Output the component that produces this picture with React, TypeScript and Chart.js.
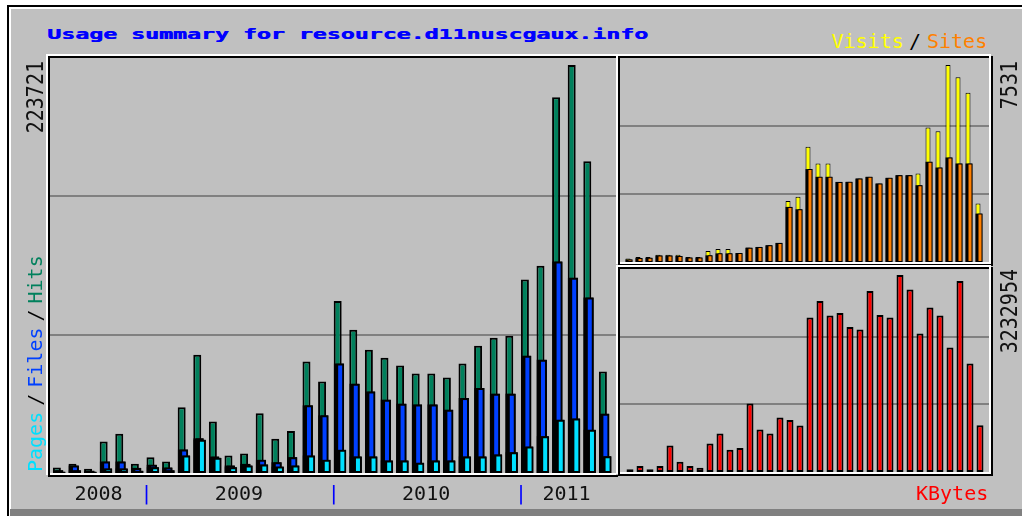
import React, { useEffect, useRef } from 'react';
import { Chart, registerables } from 'chart.js';
Chart.register(...registerables);

// ---------------- data ----------------
const title = 'Usage summary for resource.d11nuscgaux.info';
const years = ['2008', '2009', '2010', '2011'];
const monthsPerYear = [6, 12, 12, 6];

const hits = [3000, 5100, 2300, 17300, 21500, 5100, 8700, 6300, 36100, 64900, 28300, 9600, 10700, 32800, 18800, 23000, 61200, 50200,
  94300, 78600, 67600, 63200, 59000, 54500, 54500, 52300, 60000, 69800, 74200, 75300, 106100, 113700, 206000, 223721, 171000, 55600];
const files = [1500, 4100, 1200, 6300, 6300, 2800, 4500, 3000, 12900, 19000, 9000, 4100, 5000, 7200, 5900, 8700, 37100, 31600,
  60000, 49000, 44700, 40200, 38000, 37600, 37600, 34700, 41100, 46600, 43500, 43500, 64300, 62100, 116000, 107000, 96200, 32500];
const pages = [700, 1500, 700, 2500, 2500, 1200, 3200, 1500, 9600, 18200, 8300, 3200, 4100, 4700, 3500, 4100, 9600, 7200,
  12700, 9100, 9100, 6900, 6900, 5600, 6900, 6900, 9100, 9100, 10200, 11400, 14500, 20200, 29200, 29900, 23700, 9200];
const visits = [130, 190, 190, 280, 280, 280, 190, 190, 420, 500, 500, 345, 550, 575, 640, 730, 2335, 2490,
  4400, 3765, 3765, 3060, 3062, 3190, 3254, 2999, 3215, 3318, 3318, 3381, 5140, 5000, 7531, 7055, 6470, 2235];
const sites = [100, 150, 160, 250, 250, 230, 170, 170, 255, 330, 330, 340, 545, 575, 640, 730, 2105, 2015,
  3550, 3255, 3255, 3060, 3062, 3190, 3254, 2999, 3215, 3318, 3318, 2935, 3830, 3610, 3995, 3765, 3765, 1850];
const kbytes = [44000, 99000, 44000, 99000, 433000, 170000, 99000, 71000, 466000, 630000, 367000, 394000, 1123000, 696000, 630000, 893000, 855000, 762000,
  2537000, 2805000, 2570000, 2608000, 2378000, 2340000, 2970000, 2575000, 2537000, 3232954, 2997000, 2274000, 2701000, 2570000, 2044000, 3134000, 1781000, 767000];

// ---------------- styles ----------------
const COL = {
  hits: '#00805C', files: '#0040FF', pages: '#00E0FF',
  visits: '#FFFF00', sites: '#FF8000', kbytes: '#FF0000',
  grid: '#808080', bg: '#C0C0C0', title: '#0000FF', sep: '#0000FF',
};
const MONO = "'DejaVu Sans Mono', 'Liberation Mono', monospace";

const xy = (arr: number[], dx: number) => arr.map((v, i) => ({ x: i + dx, y: v }));

function bar(label: string, arr: number[], dx: number, color: string, width: number, order: number, border: number) {
  return {
    label, data: xy(arr, dx), backgroundColor: color, borderColor: '#000', borderWidth: border,
    barThickness: width, order, grouped: false, borderSkipped: false, inflateAmount: 0,
  };
}

function yScale(max: number) {
  return {
    min: 0, max,
    afterBuildTicks: (s: any) => { s.ticks = [{ value: max / 3 }, { value: (2 * max) / 3 }]; },
    afterFit: (s: any) => { s.width = 0; },
    grid: { color: COL.grid, lineWidth: 2, drawTicks: false },
    border: { display: false },
    ticks: { display: false },
  };
}

const baseOpts = {
  animation: false as const, responsive: false, devicePixelRatio: 1,
  layout: { padding: 0 },
  plugins: { legend: { display: false }, tooltip: { enabled: false } },
};

function yearTicks() {
  const out: { value: number; label: string; sep: boolean }[] = [];
  let s = 0;
  monthsPerYear.forEach((n, k) => {
    out.push({ value: s + (n - 1) / 2 + 0.17, label: years[k], sep: false });
    if (k < years.length - 1) out.push({ value: s + n - 0.5 + 0.25, label: '|', sep: true });
    s += n;
  });
  return out;
}

function mainConfig(): any {
  const ticks = yearTicks();
  const ymax = Math.max(...hits) * 1.0172;
  return {
    type: 'bar',
    data: {
      datasets: [
        bar('Hits', hits, 0, COL.hits, 8, 5, 2),
        bar('', files, 0.08, '#000', 10, 4, 0),
        bar('Files', files, 0.16, COL.files, 8, 3, 2),
        bar('', pages, 0.15, '#000', 12, 2, 0),
        bar('Pages', pages, 0.3, COL.pages, 8, 1, 2),
      ],
    },
    options: {
      ...baseOpts,
      scales: {
        x: {
          type: 'linear', min: -0.44, max: 35.84, offset: false,
          afterBuildTicks: (s: any) => { s.ticks = ticks.map(t => ({ value: t.value })); },
          afterFit: (s: any) => { s.height = 36; },
          grid: { display: false, drawTicks: false },
          border: { display: false },
          ticks: {
            autoSkip: false, maxRotation: 0, minRotation: 0, padding: 10,
            callback: (_v: any, i: number) => ticks[i].label,
            color: (ctx: any) => (ticks[ctx.index] && ticks[ctx.index].sep ? COL.sep : '#111'),
            font: { family: MONO, size: 20 },
          },
        },
        y: yScale(ymax),
      },
    },
  };
}

function visitsConfig(): any {
  const ymax = Math.max(...visits) * 1.035;
  return {
    type: 'bar',
    data: {
      datasets: [
        bar('Visits', visits, 0, COL.visits, 5, 3, 1),
        bar('', sites, 0.1, '#000', 7, 2, 0),
        bar('Sites', sites, 0.2, COL.sites, 5, 1, 1),
      ],
    },
    options: {
      ...baseOpts,
      scales: {
        x: { type: 'linear', min: -0.8, max: 36.1, display: false, offset: false },
        y: yScale(ymax),
      },
    },
  };
}

function kbytesConfig(): any {
  const ymax = Math.max(...kbytes) * 1.0305;
  return {
    type: 'bar',
    data: { datasets: [bar('KBytes', kbytes, 0, COL.kbytes, 7, 1, 2)] },
    options: {
      ...baseOpts,
      scales: {
        x: { type: 'linear', min: -1.0, max: 35.9, display: false, offset: false },
        y: yScale(ymax),
      },
    },
  };
}

// ---------------- helpers ----------------
const abs = (left: number, top: number, width: number, height: number, background: string): React.CSSProperties => ({
  position: 'absolute', left, top, width, height, background,
});

function Etched({ x1, y1, x2, y2, right = true }: { x1: number; y1: number; x2: number; y2: number; right?: boolean }) {
  const w = (a: number, b: number, c: number, d: number, col: string, k: string) => <div key={k} style={abs(a, b, c, d, col)} />;
  const wx1 = x1 - 2, wy1 = y1 - 2, wx2 = x2 - 2, wy2 = y2 - 2;
  const els = [
    w(wx1, wy1, wx2 - wx1, 2, '#fff', 'wt'),
    w(wx1, wy1, 2, wy2 - wy1, '#fff', 'wl'),
    w(wx1, wy2 - 2, wx2 - wx1, 2, '#fff', 'wb'),
    w(x1, y1, x2 - x1, 2, '#000', 'bt'),
    w(x1, y1, 2, y2 - y1, '#000', 'bl'),
    w(x1, y2 - 2, x2 - x1, 2, '#000', 'bb'),
  ];
  if (right) {
    els.push(w(wx2 - 2, wy1, 2, wy2 - wy1, '#fff', 'wr'));
    els.push(w(x2 - 2, y1, 2, y2 - y1, '#000', 'br'));
  }
  return <>{els}</>;
}

const label20: React.CSSProperties = {
  position: 'absolute', fontFamily: MONO, fontSize: 20, lineHeight: '20px', whiteSpace: 'nowrap',
};

function VTop({ left, top, text }: { left: number; top: number; text: string }) {
  const W = 140;
  return (
    <div style={{ ...label20, left, top: top + W, width: W, textAlign: 'right', color: '#111',
      transformOrigin: '0 0', transform: 'rotate(-90deg) scaleY(1.12)' }}>{text}</div>
  );
}

export default function App() {
  const mainRef = useRef<HTMLCanvasElement>(null);
  const visRef = useRef<HTMLCanvasElement>(null);
  const kbRef = useRef<HTMLCanvasElement>(null);

  useEffect(() => {
    const charts = [
      new Chart(mainRef.current as HTMLCanvasElement, mainConfig()),
      new Chart(visRef.current as HTMLCanvasElement, visitsConfig()),
      new Chart(kbRef.current as HTMLCanvasElement, kbytesConfig()),
    ];
    return () => charts.forEach(c => c.destroy());
  }, []);

  const slash = (m: number): React.CSSProperties => ({ color: '#000', margin: `0 ${m}px` });

  return (
    <div style={{ position: 'absolute', left: 0, top: 0, width: 1022, height: 516, overflow: 'hidden', background: '#fff' }}>
      <div style={abs(7, 5, 1015, 511, '#000')} />
      <div style={abs(9, 7, 1013, 509, '#fff')} />
      <div style={abs(11, 9, 1011, 507, COL.bg)} />
      <div style={abs(10, 509, 1012, 7, '#808080')} />

      <canvas ref={mainRef} width={566} height={451} style={{ position: 'absolute', left: 50, top: 58, width: 566, height: 451 }} />
      <canvas ref={visRef} width={369} height={204} style={{ position: 'absolute', left: 620, top: 58, width: 369, height: 204 }} />
      <canvas ref={kbRef} width={369} height={203} style={{ position: 'absolute', left: 620, top: 269, width: 369, height: 203 }} />

      <Etched x1={48} y1={56} x2={618} y2={477} right={false} />
      <Etched x1={618} y1={56} x2={993} y2={266} />
      <Etched x1={618} y1={267} x2={993} y2={476} />

      <div style={{ position: 'absolute', left: 47, top: 27.3, fontFamily: MONO, fontWeight: 'bold', fontSize: 14,
        lineHeight: '14px', color: COL.title, whiteSpace: 'nowrap', transformOrigin: '0 0', transform: 'scaleX(1.658)',
        textShadow: `0.5px 0 0 ${COL.title}` }}>
        {title}
      </div>

      <div style={{ ...label20, left: 831.5, top: 30.7, color: COL.visits }}>Visits</div>
      <div style={{ ...label20, left: 909, top: 30.7, color: '#000' }}>/</div>
      <div style={{ ...label20, left: 927, top: 30.7, color: COL.sites }}>Sites</div>

      <div style={{ ...label20, left: 916, top: 482.7, color: COL.kbytes }}>KBytes</div>

      <VTop left={23.5} top={61} text={String(Math.max(...hits))} />
      <VTop left={997.5} top={61} text={String(Math.max(...visits))} />
      <VTop left={997.5} top={269} text={String(Math.max(...kbytes))} />

      <div style={{ ...label20, left: 25, top: 471.5, transformOrigin: '0 0', transform: 'rotate(-90deg)' }}>
        <span style={{ color: COL.pages }}>Pages</span>
        <span style={slash(6)}>/</span>
        <span style={{ color: COL.files }}>Files</span>
        <span style={slash(6)}>/</span>
        <span style={{ color: COL.hits }}>Hits</span>
      </div>
    </div>
  );
}
